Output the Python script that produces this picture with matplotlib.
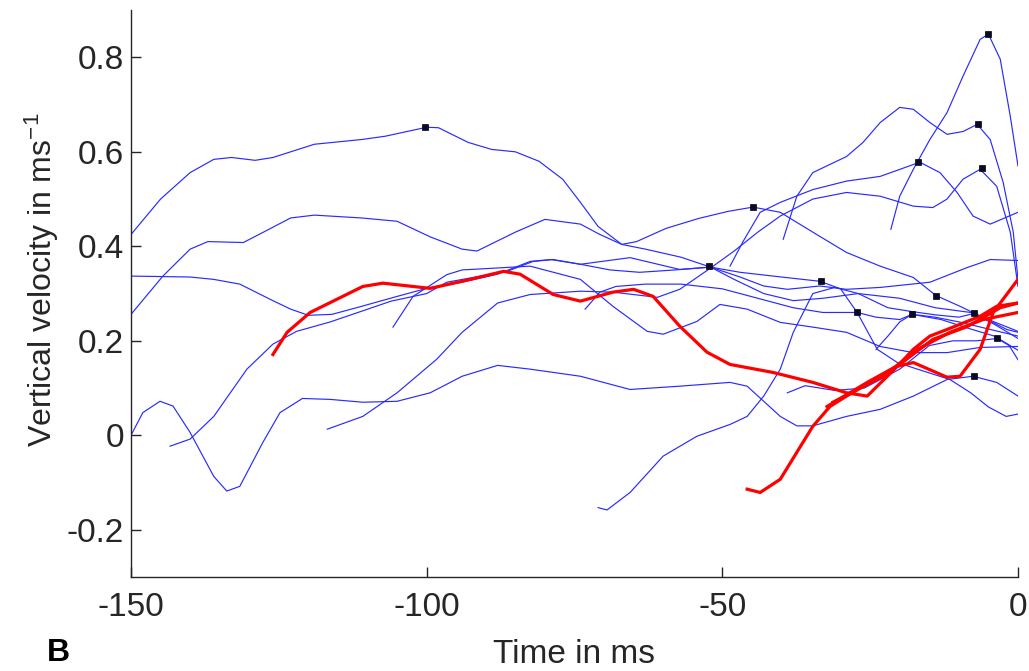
import matplotlib
matplotlib.use("Agg")
import matplotlib.pyplot as plt

plt.rcParams['font.family'] = ['Liberation Sans', 'DejaVu Sans']
plt.rcParams['mathtext.default'] = 'regular'

# ---- blue trials (time in ms, vertical velocity in m/s) ----
a_t = [-150, -145, -140, -136, -133, -129, -126, -119, -111, -107, -100, -98, -93, -89, -85, -81, -77, -74,
       -71, -67, -63, -57, -52, -47, -40, -33.5, -30, -27.2, -23.8, -20.4, -17, -11.5, -8, -5, -2, 0]
a_v = [0.425, 0.50, 0.556, 0.584, 0.588, 0.582, 0.588, 0.616, 0.626, 0.633, 0.652, 0.651, 0.62, 0.605, 0.60, 0.58, 0.542, 0.493,
       0.442, 0.404, 0.394, 0.377, 0.356, 0.345, 0.335, 0.326, 0.31, 0.26, 0.182, 0.154, 0.14, 0.118, 0.09, 0.06, 0.04, 0.045]

c_t = [-150, -144.6, -140, -137, -131, -127.6, -123, -119, -111, -105, -99.4, -94, -91.5, -85, -80, -74, -70.7, -67,
       -64.5, -59.5, -54, -49, -44.8, -40.2, -34.7, -29, -23.3, -17.7, -13.9, -9.8, -5.2, -1.9, 0]
c_v = [0.256, 0.337, 0.394, 0.41, 0.408, 0.43, 0.46, 0.466, 0.46, 0.453, 0.42, 0.394, 0.39, 0.43, 0.457, 0.447, 0.425, 0.404,
       0.41, 0.438, 0.459, 0.474, 0.483, 0.472, 0.43, 0.387, 0.358, 0.334, 0.296, 0.273, 0.245, 0.224, 0.218]

d_t = [-150, -140, -136, -131.6, -126.5, -123, -120, -116, -111, -105, -99.4, -94, -88, -82.5, -79, -74, -69, -64,
       -58, -52, -47, -43, -39, -33.5, -29, -23.3, -14.9, -8.6, -4.7, 0]
d_v = [0.337, 0.335, 0.33, 0.32, 0.288, 0.267, 0.254, 0.256, 0.273, 0.294, 0.313, 0.324, 0.341, 0.368, 0.372, 0.362, 0.35, 0.345,
       0.35, 0.356, 0.335, 0.316, 0.309, 0.316, 0.309, 0.313, 0.324, 0.355, 0.372, 0.37]

e_t = [-39.7, -37.4, -34.7, -29, -26.2, -23.3, -20, -17.7, -14.9, -12, -9.3, -6.9, -4.7, -2.5, -0.8, 0]
e_v = [0.415, 0.506, 0.556, 0.59, 0.62, 0.662, 0.694, 0.69, 0.662, 0.637, 0.643, 0.658, 0.626, 0.535, 0.43, 0.33]

f_t = [-116.8, -110.8, -105, -98.3, -94, -88, -82.5, -74, -68.5, -61, -57.2, -52.1, -48, -44, -40.2, -34.7, -29,
       -23.3, -17.7, -14.4, -12, -9.3, -6.4, -3.6, -1.3, 0]
f_v = [0.013, 0.04, 0.09, 0.161, 0.218, 0.28, 0.298, 0.305, 0.303, 0.292, 0.309, 0.353, 0.39, 0.43, 0.464, 0.50, 0.514,
       0.506, 0.485, 0.482, 0.50, 0.542, 0.563, 0.527, 0.43, 0.315]

g_t = [-48.7, -46.5, -43.6, -40.2, -34.7, -29, -23.3, -16.6, -13.2, -10.3, -7.6, -4.7, 0]
g_v = [0.358, 0.41, 0.472, 0.493, 0.52, 0.538, 0.548, 0.578, 0.556, 0.514, 0.464, 0.447, 0.472]

q_t = [-21.5, -20, -17.7, -14.9, -12, -9.3, -6.4, -5, -3, -1.3, 0]
q_v = [0.436, 0.506, 0.563, 0.626, 0.683, 0.76, 0.838, 0.849, 0.796, 0.675, 0.57]

i_t = [-150, -148, -145.1, -142.9, -140, -136, -133.8, -131.6, -127.7, -124.8, -121, -116.3, -110.8, -105, -99.4, -94,
       -88, -82.5, -74, -65.6, -57.2, -48.7, -45.8, -40.2, -37.4, -34.7, -29, -23.3, -17.7, -12, -7.6, -3.6, 0]
i_v = [0.0, 0.048, 0.072, 0.062, 0.006, -0.087, -0.118, -0.108, -0.015, 0.048, 0.078, 0.076, 0.07, 0.072, 0.09, 0.125,
       0.148, 0.14, 0.125, 0.097, 0.104, 0.112, 0.104, 0.04, 0.02, 0.02, 0.04, 0.055, 0.083, 0.118, 0.125, 0.112, 0.083]

l_t = [-143.4, -140, -136, -130.4, -126, -122, -116.3, -106, -100, -96.6, -86.4, -82, -78.6, -74, -65.6, -57.2,
       -52, -48, -43, -38, -33, -27, -20, -14, -8, -4, 0]
l_v = [-0.023, -0.008, 0.04, 0.14, 0.193, 0.22, 0.24, 0.284, 0.30, 0.324, 0.347, 0.368, 0.372, 0.362, 0.376, 0.351,
       0.356, 0.33, 0.30, 0.285, 0.29, 0.30, 0.29, 0.27, 0.26, 0.235, 0.205]

m_t = [-105.7, -102.3, -96.6, -94, -82.5, -74, -68.5, -62.7, -60, -54.3, -50.4, -45.8, -40.2, -34.7, -29, -23.3,
       -17.7, -12, -6.4, 0]
m_v = [0.229, 0.294, 0.34, 0.35, 0.358, 0.33, 0.273, 0.22, 0.214, 0.241, 0.277, 0.267, 0.239, 0.229, 0.218, 0.188,
       0.175, 0.175, 0.186, 0.188]

n_t = [-73.2, -70.7, -68, -63, -57, -50, -44, -38, -33, -27.2, -24, -20, -17.9, -13, -8, -4, 0]
n_v = [0.267, 0.303, 0.315, 0.32, 0.32, 0.31, 0.29, 0.27, 0.26, 0.26, 0.25, 0.245, 0.256, 0.245, 0.225, 0.21, 0.18]

r_t = [-71, -69.5, -65.6, -60, -54.3, -48.7, -45.8, -43, -40.2, -38, -34.7, -31, -27, -22, -18, -14, -10, -7.4, -4, 0]
r_v = [-0.153, -0.158, -0.121, -0.044, -0.002, 0.023, 0.04, 0.083, 0.14, 0.218, 0.30, 0.313, 0.30, 0.27, 0.262, 0.255,
       0.25, 0.258, 0.24, 0.22]

s_t = [-39, -36, -31, -26, -20, -15, -11, -7, -3.5, -1.5, 0]
s_v = [0.09, 0.105, 0.095, 0.10, 0.14, 0.19, 0.20, 0.20, 0.205, 0.19, 0.16]

t_t = [-24, -22, -20, -17.9, -14, -10, -5, 0]
t_v = [0.182, 0.21, 0.24, 0.256, 0.25, 0.24, 0.225, 0.21]

blue_trials = [(a_t, a_v), (c_t, c_v), (d_t, d_v), (e_t, e_v), (f_t, f_v), (g_t, g_v), (q_t, q_v),
               (i_t, i_v), (l_t, l_v), (m_t, m_v), (n_t, n_v), (r_t, r_v), (s_t, s_v), (t_t, t_v)]

# ---- red trials ----
red1_t = [-126, -123.6, -119.7, -116.3, -110.8, -107.4, -102.3, -99.4, -94, -87, -84.2, -78.6, -74, -68.5, -65,
          -61.7, -57.2, -52.6, -48.7, -41.4, -34.7, -29, -25.5, -20.4, -17.7, -12, -9.8, -6.4, -4.2, 0]
red1_v = [0.171, 0.218, 0.26, 0.281, 0.315, 0.322, 0.315, 0.311, 0.326, 0.347, 0.341, 0.298, 0.284, 0.303, 0.309,
          0.294, 0.231, 0.176, 0.15, 0.133, 0.112, 0.09, 0.083, 0.146, 0.154, 0.123, 0.125, 0.182, 0.26, 0.33]
red2_t = [-45.8, -43.6, -40.2, -37.4, -34.7, -31.8, -29, -23.3, -20.4, -17.7, -14.9, -12, -6.4, -3.6, 0]
red2_v = [-0.114, -0.121, -0.093, -0.036, 0.019, 0.061, 0.083, 0.125, 0.146, 0.182, 0.21, 0.224, 0.252, 0.273, 0.28]
red3_t = [-32.3, -25.5, -20, -14.4, -8.6, -3, 0]
red3_v = [0.061, 0.112, 0.15, 0.203, 0.23, 0.27, 0.28]
red4_t = [-31.3, -22.8, -17, -11.5, -5.9, 0]
red4_v = [0.07, 0.125, 0.182, 0.218, 0.245, 0.26]

red_trials = [(red1_t, red1_v), (red2_t, red2_v), (red3_t, red3_v), (red4_t, red4_v)]

# ---- peak markers ----
peak_t = [-100.3, -44.8, -52.2, -5.1, -6.8, -16.9, -6.1, -33.3, -27.2, -13.9, -17.9, -7.4, -3.5, -7.4]
peak_v = [0.652, 0.483, 0.358, 0.849, 0.658, 0.578, 0.565, 0.326, 0.260, 0.294, 0.256, 0.258, 0.205, 0.125]

fig = plt.figure(figsize=(10.29, 6.71), dpi=100)
ax = fig.add_axes([0.1273, 0.140, 0.862, 0.845])

for tt, vv in blue_trials:
    ax.plot(tt, vv, color='#2a2aff', lw=0.85)
for tt, vv in red_trials:
    ax.plot(tt, vv, color='#ff0000', lw=2.3)
ax.plot(peak_t, peak_v, 's', color='#0a0a28', ms=5, mec='black', mew=0.5)

ax.set_xlim(-150, 0)
ax.set_ylim(-0.3, 0.9)
ax.set_xticks([-150, -100, -50, 0])
ax.set_xticklabels(['-150', '-100', '-50', '0'])
ax.set_yticks([-0.2, 0, 0.2, 0.4, 0.6, 0.8])
ax.set_yticklabels(['-0.2', '0', '0.2', '0.4', '0.6', '0.8'])

for side in ['top', 'right']:
    ax.spines[side].set_visible(False)
for side in ['left', 'bottom']:
    ax.spines[side].set_color('#262626')
    ax.spines[side].set_linewidth(1.0)
ax.tick_params(direction='in', length=7, width=1, colors='#262626', labelsize=24)
ax.tick_params(axis='x', pad=11)
ax.tick_params(axis='y', pad=5)

ax.set_xlabel('Time in ms', fontsize=24, color='#262626')
ax.xaxis.set_label_coords(0.5, -0.11)
ax.set_ylabel('Vertical velocity in ms$^{-1}$', fontsize=23, color='#262626')
ax.yaxis.set_label_coords(-0.079, 0.524)

fig.text(0.046, 0.015, 'B', fontsize=23, fontweight='bold', color='black')

fig.savefig('out.png', dpi=100)
